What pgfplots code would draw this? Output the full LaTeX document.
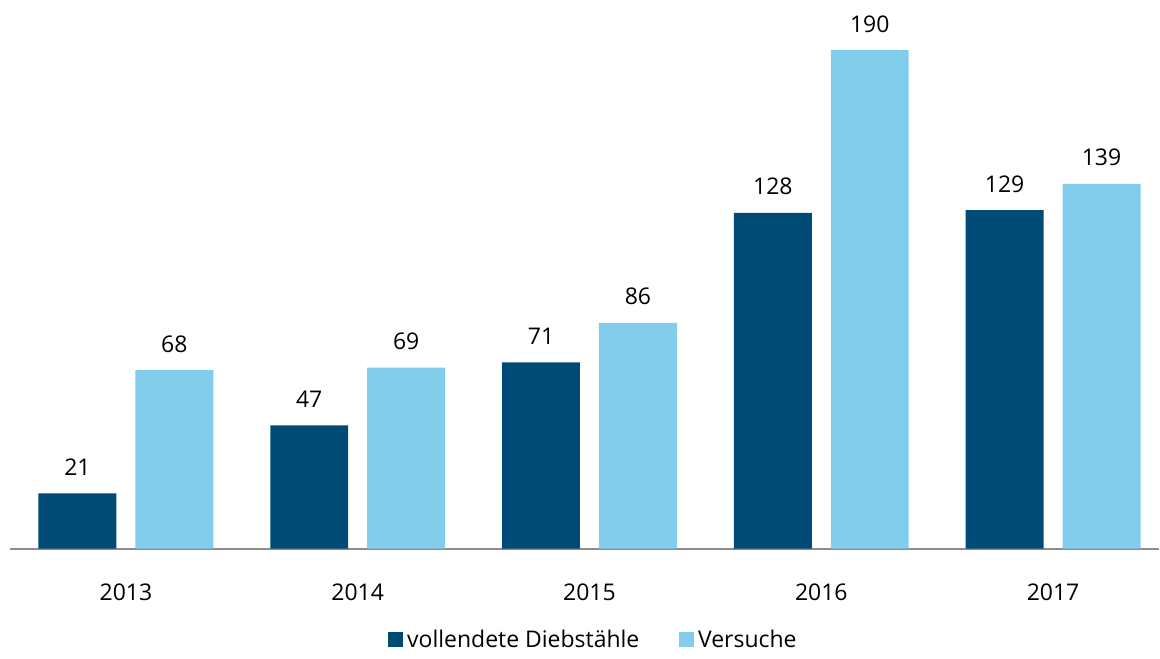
\documentclass[border=0pt]{standalone}
\usepackage{fontspec}
\setmainfont{Open Sans}
\usepackage{pgfplots}
\pgfplotsset{compat=1.18}
\definecolor{dunkel}{HTML}{004B76}
\definecolor{hell}{HTML}{82CDEB}
\definecolor{achse}{HTML}{8C8C8C}
\begin{document}
\begin{tikzpicture}[font=\fontsize{11.5pt}{14pt}\selectfont]
\begin{axis}[
  scale only axis=true,
  width=575pt, height=262.5pt,
  ybar=9.5pt, bar width=39pt,
  xmin=-0.5, xmax=4.457,
  ymin=0, ymax=200,
  axis x line*=bottom,
  axis y line=none,
  x axis line style={achse, line width=1pt, -},
  xtick={0,1,2,3,4},
  xticklabels={2013,2014,2015,2016,2017},
  xtick style={draw=none},
  xticklabel style={anchor=base, yshift=-21.5pt},
  /pgf/number format/assume math mode=true,
  nodes near coords,
  every node near coord/.append style={font=\fontsize{11.5pt}{14pt}\selectfont, anchor=base, yshift=9pt},
  legend columns=2,
  legend style={draw=none, at={(0.5087,-0.1745)}, anchor=center,
    /tikz/every even column/.append style={column sep=18pt},
    font=\fontsize{11.5pt}{14pt}\selectfont},
  legend image code/.code={\fill[#1] (0pt,-3.6pt) rectangle (7.4pt,3.8pt);},
]
\addplot[fill=dunkel, draw=none] coordinates {(0,21) (1,47) (2,71) (3,128) (4,129)};
\addplot[fill=hell, draw=none] coordinates {(0,68) (1,69) (2,86) (3,190) (4,139)};
\legend{vollendete Diebstähle, Versuche}
\end{axis}
\useasboundingbox ([shift={(-5pt,-51pt)}]current axis.south west) rectangle ([shift={(575pt,274.5pt)}]current axis.south west);
\end{tikzpicture}
\end{document}
